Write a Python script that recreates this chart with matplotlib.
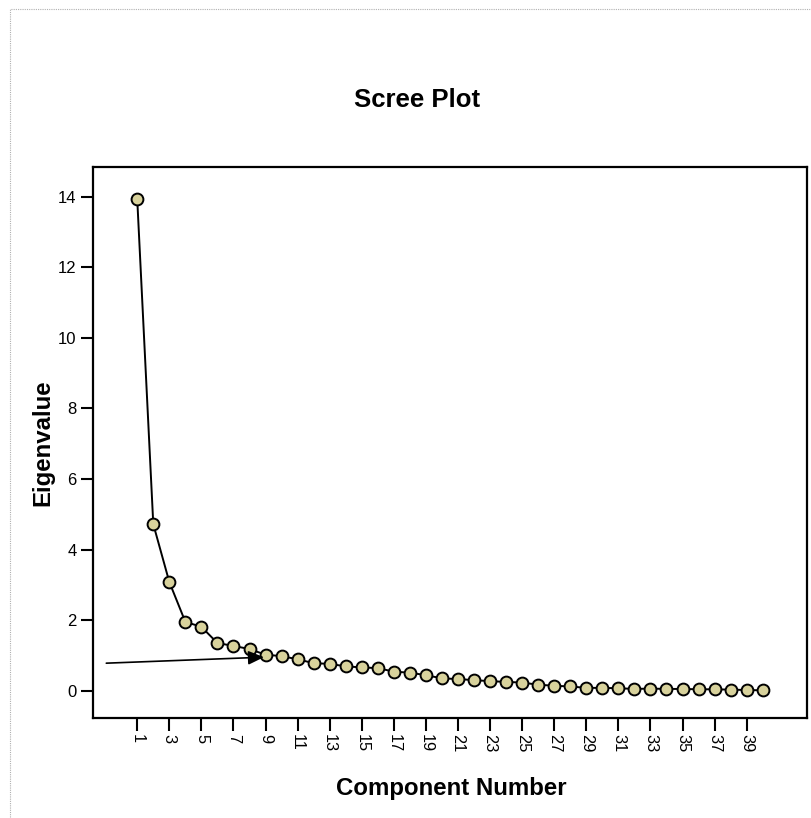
import matplotlib
matplotlib.use("Agg")
import matplotlib.pyplot as plt
from matplotlib.patches import Rectangle

plt.rcParams['font.family'] = ['Liberation Sans', 'DejaVu Sans']

components = list(range(1, 41))
eigenvalues = [13.92, 4.72, 3.08, 1.95, 1.81, 1.35, 1.27, 1.18, 1.02, 0.98,
               0.89, 0.78, 0.76, 0.69, 0.66, 0.64, 0.54, 0.51, 0.44, 0.35,
               0.33, 0.30, 0.27, 0.25, 0.23, 0.17, 0.14, 0.12, 0.08, 0.08,
               0.07, 0.05, 0.06, 0.05, 0.05, 0.04, 0.04, 0.03, 0.02, 0.01]
xticks = list(range(1, 40, 2))
yticks = [0, 2, 4, 6, 8, 10, 12, 14]
arrow_start = (-0.93, 0.78)
arrow_end = (8.9, 0.95)

W, H = 811, 818
fig = plt.figure(figsize=(W / 100, H / 100), dpi=100)

# dotted frame around the chart
fig.patches.append(Rectangle((10 / W, -0.5), 2, 1.5 - 9 / H, transform=fig.transFigure,
                             fill=False, edgecolor='#b0b0b0', linestyle=(0, (1, 1)), lw=0.8))

ax = fig.add_axes([93.3 / W, 1 - 717.7 / H, (806.5 - 93.3) / W, (717.7 - 167) / H])
ax.plot(components, eigenvalues, color='black', lw=1.4, marker='o', markersize=8.5,
        markerfacecolor='#d8d29c', markeredgecolor='black', markeredgewidth=1.4, zorder=3)

ax.annotate('', xy=arrow_end, xytext=arrow_start,
            arrowprops=dict(arrowstyle='-|>,head_length=0.95,head_width=0.42',
                            color='black', lw=1.2, shrinkA=0, shrinkB=0, mutation_scale=10),
            zorder=4)

ax.set_xlim(-1.74, 42.73)
ax.set_ylim(-0.765, 14.84)
ax.set_xticks(xticks)
ax.set_xticklabels([str(t) for t in xticks], rotation=-90, fontsize=11.8)
ax.set_yticks(yticks)
ax.set_yticklabels([str(t) for t in yticks], fontsize=12)
ax.tick_params(direction='out', length=9, width=1.5, pad=3)
for s in ax.spines.values():
    s.set_linewidth(1.6)

fig.text(417 / W, 1 - 100 / H, 'Scree Plot', ha='center', va='center',
         fontsize=18.5, fontweight='bold')
fig.text(451.5 / W, 1 - 788 / H, 'Component Number', ha='center', va='center',
         fontsize=17.3, fontweight='bold')
fig.text(42.5 / W, 1 - 443 / H, 'Eigenvalue', ha='center', va='center', rotation=90,
         fontsize=17.3, fontweight='bold')

fig.savefig('out.png', dpi=100, facecolor='white')
